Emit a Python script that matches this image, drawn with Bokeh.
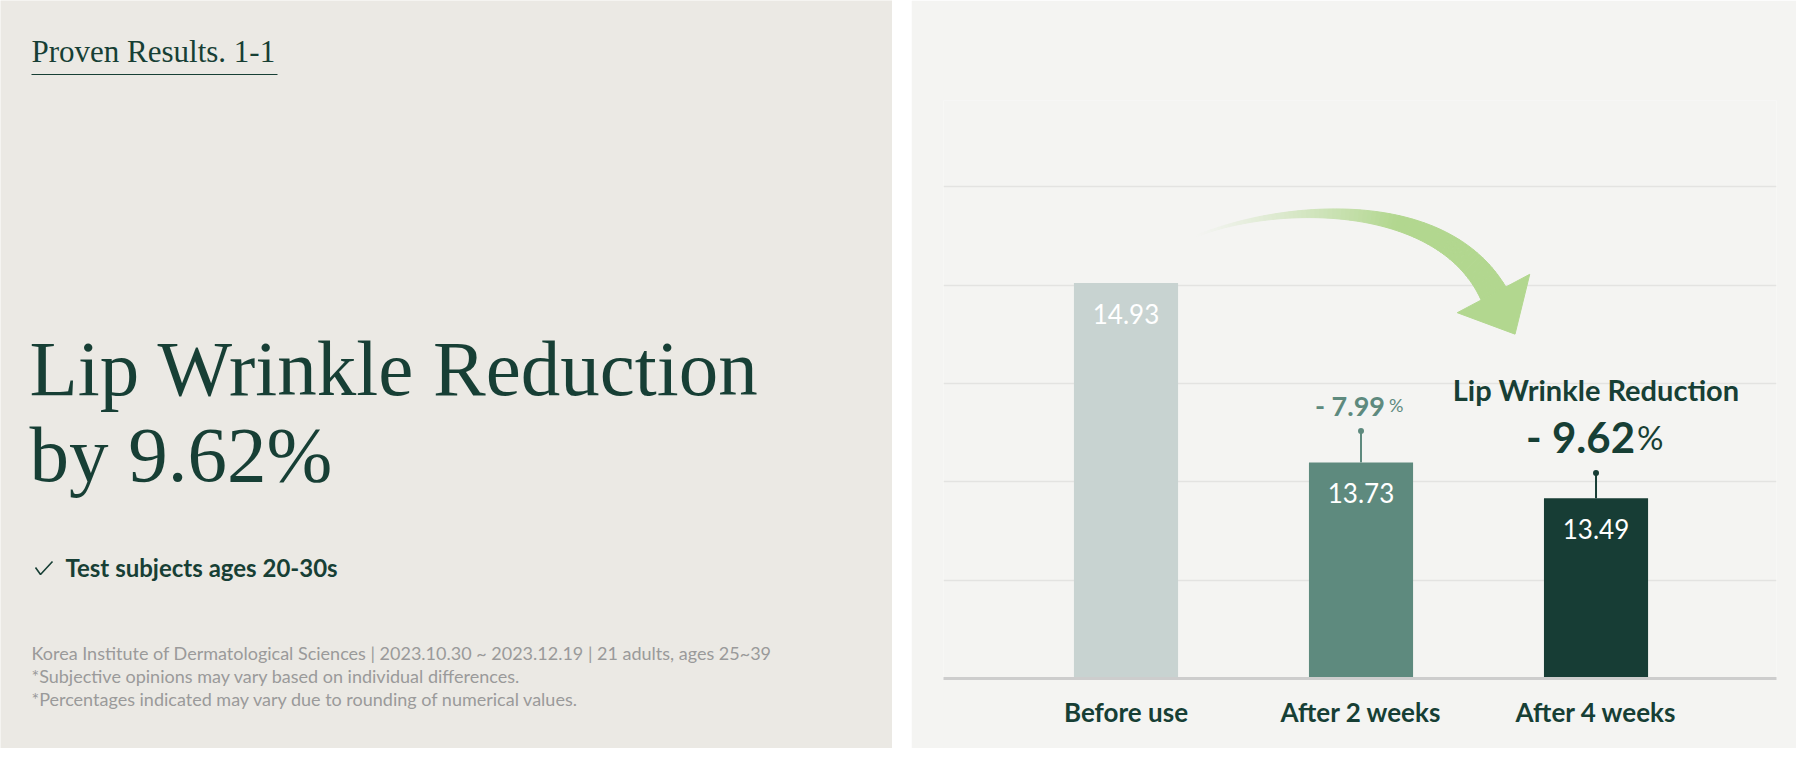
import numpy as np
from bokeh.plotting import figure
from bokeh.layouts import row
from bokeh.models import Range1d, FixedTicker, ColumnDataSource
from bokeh.core.properties import value
from bokeh.embed import file_html
from bokeh.resources import INLINE

# ---------------- data ----------------
categories = ["Before use", "After 2 weeks", "After 4 weeks"]
values = [14.93, 13.73, 13.49]
errors = [0.0, 0.21, 0.17]
change_labels = ["", "- 7.99", "- 9.62"]
bar_colors = ["#C8D3D1", "#5E8A7E", "#173D35"]

page_label = "Proven Results. 1-1"
headline = ["Lip Wrinkle Reduction", "by 9.62%"]
subject_note = "Test subjects ages 20-30s"
footnotes = [
    "Korea Institute of Dermatological Sciences | 2023.10.30 ~ 2023.12.19 | 21 adults, ages 25~39",
    "*Subjective opinions may vary based on individual differences.",
    "*Percentages indicated may vary due to rounding of numerical values.",
]
callout_title = "Lip Wrinkle Reduction"

DARK = "#173F35"
LEFT_BG = "#EBE9E4"
RIGHT_BG = "#F4F4F2"
H = 748
WL = 892
GAP = 19
WR = 885
TOP, BOTTOM = 100, 70


def txt(p, x, y, s, size, color, font, style="normal", align="left",
        baseline="alphabetic", x_off=0, y_off=0):
    p.text(x=[x], y=[y], text=[s], text_font=value(font),
           text_font_size=value(f"{size}px"), text_font_style=style,
           text_color=color, text_align=align, text_baseline=baseline,
           x_offset=x_off, y_offset=y_off)


# ---------------- left text panel ----------------
left = figure(width=WL, height=H, x_range=Range1d(0, WL), y_range=Range1d(H, 0),
              toolbar_location=None, output_backend="svg", min_border=0)
left.frame_align = False
left.axis.visible = False
left.grid.visible = False
left.outline_line_color = None
left.background_fill_color = LEFT_BG
left.border_fill_color = LEFT_BG

txt(left, 31, 51, page_label, 31, DARK, "Liberation Serif")
left.segment(x0=[31], y0=[74], x1=[277], y1=[74], line_color=DARK, line_width=1.2)

txt(left, 29, 368, headline[0], 79, DARK, "Liberation Serif")
txt(left, 29, 454, headline[1], 79, DARK, "Liberation Serif")

left.line(x=[35, 40, 52], y=[567, 574, 561], line_color=DARK, line_width=1.6)
txt(left, 65, 567, subject_note, 24, DARK, "Lato", style="bold")

for k, line in enumerate(footnotes):
    txt(left, 31, 652 + 23 * k, line, 18, "#9A9A9A", "Lato")

# ---------------- right chart panel ----------------
x0, x1 = -0.7766, 2.768
y0, y1 = 12.284, 16.152
grid_step = 0.658

right = figure(width=WR, height=H, x_range=Range1d(x0, x1), y_range=Range1d(y0, y1),
               toolbar_location=None, output_backend="svg",
               min_border_left=32, min_border_right=20,
               min_border_top=TOP, min_border_bottom=BOTTOM)
right.frame_align = False
right.background_fill_color = RIGHT_BG
right.border_fill_color = RIGHT_BG
right.outline_line_color = None
right.yaxis.visible = False
right.xgrid.visible = False
right.ygrid.ticker = FixedTicker(ticks=[y0 + grid_step * k for k in range(1, 6)])
right.ygrid.grid_line_color = "#E3E3E1"
right.ygrid.grid_line_width = 1.5

right.xaxis.ticker = FixedTicker(ticks=list(range(len(categories))))
right.xaxis.major_label_overrides = {i: c for i, c in enumerate(categories)}
right.xaxis.major_tick_line_color = None
right.xaxis.minor_tick_line_color = None
right.xaxis.axis_line_color = "#CDCDCD"
right.xaxis.axis_line_width = 3
right.xaxis.major_label_text_font = "Lato"
right.xaxis.major_label_text_font_size = "26px"
right.xaxis.major_label_text_font_style = "bold"
right.xaxis.major_label_text_color = DARK
right.xaxis.major_label_standoff = 11

# --- decorative curved arrow (drawn under bars/labels) ---
FW = WR - 32 - 20
FH = H - TOP - BOTTOM
sx = FW / (x1 - x0)
sy = FH / (y1 - y0)


def to_data(px, py):
    lx = np.asarray(px) - (WL + GAP)
    ly = np.asarray(py)
    return x0 + (lx - 32) / sx, y1 - (ly - TOP) / sy


P0 = np.array([1195.0, 236.0])
P1 = np.array([1275.0, 203.0])
P2 = np.array([1440.0, 193.0])
P3 = np.array([1493.0, 293.0])
t = np.linspace(0, 1, 81)[:, None]
B = (1 - t) ** 3 * P0 + 3 * (1 - t) ** 2 * t * P1 + 3 * (1 - t) * t ** 2 * P2 + t ** 3 * P3
D = 3 * (1 - t) ** 2 * (P1 - P0) + 6 * (1 - t) * t * (P2 - P1) + 3 * t ** 2 * (P3 - P2)
D = D / np.linalg.norm(D, axis=1, keepdims=True)
N = np.column_stack([D[:, 1], -D[:, 0]])
tt = t[:, 0]
w = 1.0 + 27.0 * tt ** 1.4
L = B + N * (w[:, None] / 2)
R = B - N * (w[:, None] / 2)
alpha = np.clip(tt / 0.62, 0, 1) ** 1.3
green = np.array([178, 215, 143])
bg = np.array([244, 244, 242])

xs, ys, cols = [], [], []
for i in range(len(tt) - 1):
    a = (alpha[i] + alpha[i + 1]) / 2
    c = bg + (green - bg) * a
    cols.append("#%02x%02x%02x" % tuple(int(round(v)) for v in c))
    qx = [L[i, 0], L[i + 1, 0], R[i + 1, 0], R[i, 0]]
    qy = [L[i, 1], L[i + 1, 1], R[i + 1, 1], R[i, 1]]
    dx, dy = to_data(qx, qy)
    xs.append(list(dx))
    ys.append(list(dy))
right.patches(xs="xs", ys="ys", fill_color="c", line_color="c", line_width=1,
              source=ColumnDataSource(dict(xs=xs, ys=ys, c=cols)))
d_end = D[-1]
n_end = N[-1]
wing_a = P3 + n_end * 41
wing_b = P3 - n_end * 41
tip = P3 + d_end * 46
hx, hy = to_data([wing_a[0], tip[0], wing_b[0]], [wing_a[1], tip[1], wing_b[1]])
right.patch(x=list(hx), y=list(hy), fill_color="#B2D78F", line_color="#B2D78F", line_width=1)

# --- bars ---
xpos = list(range(len(categories)))
src = ColumnDataSource(dict(x=xpos, top=values, color=bar_colors,
                            label=[f"{v:.2f}" for v in values]))
right.vbar(x="x", top="top", bottom=y0, width=0.443, fill_color="color",
           line_color=None, source=src)
right.text(x="x", y="top", text="label", source=src, text_color="white",
           text_font=value("Lato"), text_font_size=value("26px"),
           text_align="center", text_baseline="middle", y_offset=31)

# --- whiskers and change labels ---
for i, (v, e) in enumerate(zip(values, errors)):
    if e <= 0:
        continue
    right.segment(x0=[i], y0=[v], x1=[i], y1=[v + e], line_color=bar_colors[i], line_width=2)
    right.scatter(x=[i], y=[v + e], size=6, marker="circle",
                  fill_color=bar_colors[i], line_color=None)

# 2-week change
i = 1
tip_y = values[i] + errors[i]
txt(right, i, tip_y, change_labels[i], 27, "#5E8A7E", "Lato", style="bold", align="right",
    x_off=24, y_off=-26)
txt(right, i, tip_y, "%", 18, "#5E8A7E", "Lato", align="left", x_off=28, y_off=-26)

# 4-week change (highlighted)
i = 2
tip_y = values[i] + errors[i]
txt(right, i, tip_y, change_labels[i], 42, DARK, "Lato", style="bold", align="right",
    x_off=39, y_off=-36)
txt(right, i, tip_y, "%", 33, DARK, "Lato", align="left", x_off=41, y_off=-36)
txt(right, i, tip_y, callout_title, 29, DARK, "Lato", style="bold", align="center",
    x_off=0, y_off=-83)

layout = row(left, right, spacing=GAP)
open("out.html", "w").write(file_html(layout, INLINE))
